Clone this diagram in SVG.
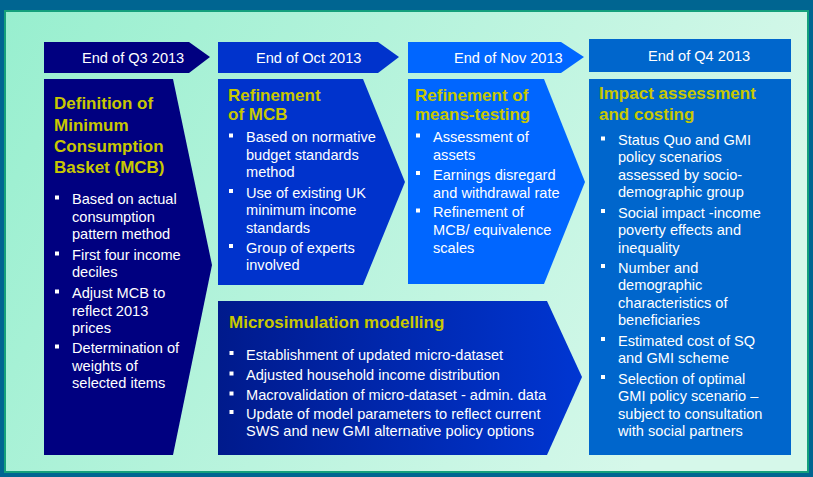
<svg xmlns="http://www.w3.org/2000/svg" width="813" height="477" viewBox="0 0 813 477">
<defs>
<linearGradient id="bg" x1="0" y1="0" x2="1" y2="0.3">
<stop offset="0" stop-color="#98efcf"/>
<stop offset="1" stop-color="#d6f8ea"/>
</linearGradient>
<linearGradient id="micro" x1="0" y1="0" x2="1" y2="0">
<stop offset="0" stop-color="#001a8c"/>
<stop offset="1" stop-color="#0036d2"/>
</linearGradient>
<style>
.hd{font-family:"Liberation Sans",Arial,sans-serif;font-size:14.6px;fill:#ffffff}
.h{font-family:"Liberation Sans",Arial,sans-serif;font-size:17px;font-weight:bold;fill:#c8c800}
.t{font-family:"Liberation Sans",Arial,sans-serif;font-size:14.6px;fill:#ffffff}
.b{fill:#ffffff}
</style>
</defs>
<rect x="0" y="0" width="813" height="477" fill="#006591"/>
<rect x="5" y="11" width="803" height="461" fill="url(#bg)" stroke="#14a07c" stroke-width="2"/>

<g id="hdr1">
<polygon points="44,42 189,42 210,57 189,73 44,73" fill="#000080"/>
<text class="hd" x="82" y="62.5">End of Q3 2013</text>
</g>
<g id="hdr2">
<polygon points="218,42 378,42 399,57 378,73 218,73" fill="#0033cc"/>
<text class="hd" x="256" y="62.5">End of Oct 2013</text>
</g>
<g id="hdr3">
<polygon points="408,42 561,42 584,57 561,73 408,73" fill="#0066ff"/>
<text class="hd" x="454" y="62.5">End of Nov 2013</text>
</g>
<g id="hdr4">
<rect x="589" y="39" width="202" height="33" fill="#0066cc"/>
<text class="hd" x="648" y="61">End of Q4 2013</text>
</g>

<g id="col1">
<polygon points="44,79 173,79 212,265 173,455 44,455" fill="#000080"/>
<text class="h" x="54" y="109">Definition of</text>
<text class="h" x="54" y="130.5">Minimum</text>
<text class="h" x="54" y="152">Consumption</text>
<text class="h" x="54" y="173">Basket (MCB)</text>
<rect class="b" x="55" y="195.5" width="4" height="4"/>
<text class="t" x="72" y="204">Based on actual</text>
<text class="t" x="72" y="221.5">consumption</text>
<text class="t" x="72" y="239">pattern method</text>
<rect class="b" x="55" y="251.5" width="4" height="4"/>
<text class="t" x="72" y="260">First four income</text>
<text class="t" x="72" y="277">deciles</text>
<rect class="b" x="55" y="289.5" width="4" height="4"/>
<text class="t" x="72" y="298">Adjust MCB to</text>
<text class="t" x="72" y="315.5">reflect 2013</text>
<text class="t" x="72" y="333">prices</text>
<rect class="b" x="55" y="344.5" width="4" height="4"/>
<text class="t" x="72" y="353">Determination of</text>
<text class="t" x="72" y="370.5">weights of</text>
<text class="t" x="72" y="388">selected items</text>
</g>

<g id="col2">
<polygon points="218,79 363,79 405,182 363,285 218,285" fill="#0033cc"/>
<text class="h" x="228" y="100.5">Refinement</text>
<text class="h" x="228" y="120">of MCB</text>
<rect class="b" x="229" y="133.5" width="4" height="4"/>
<text class="t" x="246" y="142">Based on normative</text>
<text class="t" x="246" y="159.5">budget standards</text>
<text class="t" x="246" y="177">method</text>
<rect class="b" x="229" y="189" width="4" height="4"/>
<text class="t" x="246" y="197.5">Use of existing UK</text>
<text class="t" x="246" y="215">minimum income</text>
<text class="t" x="246" y="232.5">standards</text>
<rect class="b" x="229" y="244" width="4" height="4"/>
<text class="t" x="246" y="252.5">Group of experts</text>
<text class="t" x="246" y="270">involved</text>
</g>

<g id="col3">
<polygon points="408,79 544,79 585,182 544,284 408,284" fill="#0066ff"/>
<text class="h" x="415" y="100.5">Refinement of</text>
<text class="h" x="415" y="120">means-testing</text>
<rect class="b" x="416" y="133.5" width="4" height="4"/>
<text class="t" x="433" y="142">Assessment of</text>
<text class="t" x="433" y="160">assets</text>
<rect class="b" x="416" y="171" width="4" height="4"/>
<text class="t" x="433" y="179.5">Earnings disregard</text>
<text class="t" x="433" y="197.5">and withdrawal rate</text>
<rect class="b" x="416" y="208.5" width="4" height="4"/>
<text class="t" x="433" y="217">Refinement of</text>
<text class="t" x="433" y="235">MCB/ equivalence</text>
<text class="t" x="433" y="252.5">scales</text>
</g>

<g id="col4">
<rect x="589" y="79" width="202" height="376" fill="#0066cc"/>
<text class="h" x="599" y="98.5">Impact assessment</text>
<text class="h" x="599" y="119.5">and costing</text>
<rect class="b" x="601" y="136.5" width="4" height="4"/>
<text class="t" x="618" y="145">Status Quo and GMI</text>
<text class="t" x="618" y="162">policy scenarios</text>
<text class="t" x="618" y="179.5">assessed by socio-</text>
<text class="t" x="618" y="197">demographic group</text>
<rect class="b" x="601" y="209" width="4" height="4"/>
<text class="t" x="618" y="217.5">Social impact -income</text>
<text class="t" x="618" y="235">poverty effects and</text>
<text class="t" x="618" y="252.5">inequality</text>
<rect class="b" x="601" y="264" width="4" height="4"/>
<text class="t" x="618" y="272.5">Number and</text>
<text class="t" x="618" y="290">demographic</text>
<text class="t" x="618" y="307.5">characteristics of</text>
<text class="t" x="618" y="325">beneficiaries</text>
<rect class="b" x="601" y="337" width="4" height="4"/>
<text class="t" x="618" y="345.5">Estimated cost of SQ</text>
<text class="t" x="618" y="363">and GMI scheme</text>
<rect class="b" x="601" y="375" width="4" height="4"/>
<text class="t" x="618" y="383.5">Selection of optimal</text>
<text class="t" x="618" y="401">GMI policy scenario –</text>
<text class="t" x="618" y="418.5">subject to consultation</text>
<text class="t" x="618" y="436">with social partners</text>
</g>

<g id="micro-box">
<polygon points="218,301 547,301 582,377 547,455 218,455" fill="url(#micro)"/>
<text class="h" x="229" y="327.5">Microsimulation modelling</text>
<rect class="b" x="229.5" y="351" width="4" height="4"/>
<text class="t" x="246" y="359.5">Establishment of updated micro-dataset</text>
<rect class="b" x="229.5" y="371.5" width="4" height="4"/>
<text class="t" x="246" y="380">Adjusted household income distribution</text>
<rect class="b" x="229.5" y="391.5" width="4" height="4"/>
<text class="t" x="246" y="400">Macrovalidation of micro-dataset - admin. data</text>
<rect class="b" x="229.5" y="410" width="4" height="4"/>
<text class="t" x="246" y="418.5">Update of model parameters to reflect current</text>
<text class="t" x="246" y="436">SWS and new GMI alternative policy options</text>
</g>

<g id="connectors"/>
</svg>
